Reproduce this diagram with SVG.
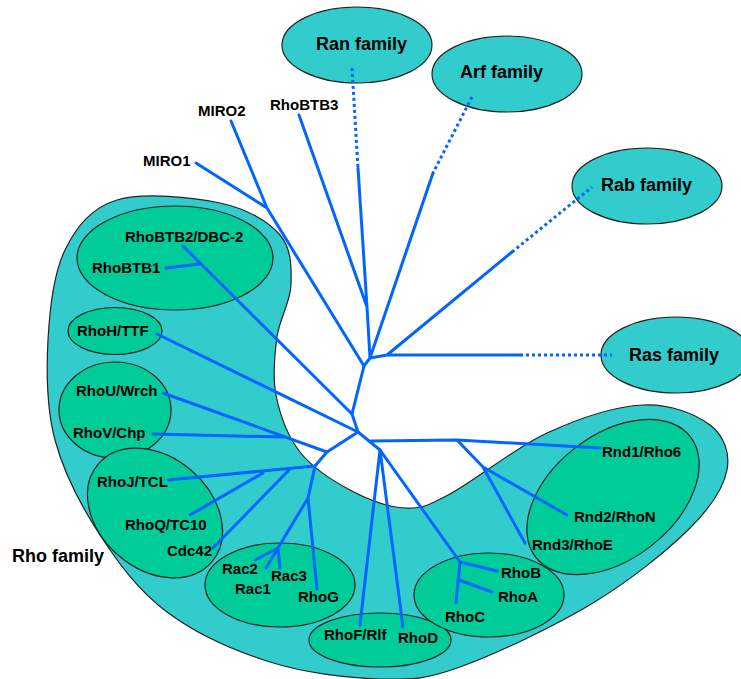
<svg xmlns="http://www.w3.org/2000/svg" width="741" height="679" viewBox="0 0 741 679">
<defs>
<style>
.fam{fill:#33CCCC;stroke:#222;stroke-width:1.2}
.sub{fill:#00CC99;stroke:#222;stroke-width:1.2}
.e{fill:none;stroke:#0066FF;stroke-width:3;stroke-linecap:round;stroke-linejoin:round}
.d{fill:none;stroke:#0066FF;stroke-width:3;stroke-dasharray:3 3}
text{font-family:"Liberation Sans",Arial,Helvetica,sans-serif;font-weight:bold;fill:#000}
.l{font-size:15px}
.f{font-size:18px}
</style>
</defs>
<rect width="741" height="679" fill="#fff"/>
<g id="rho-family">
<path class="fam" d="M117,200 C142.8,192.2 192.8,197.2 220,203 C247.2,208.8 268.2,221.3 280,235 C291.8,248.7 291.5,268 291,285 C290.5,302 279.5,318.7 277,337 C274.5,355.3 272.2,375.8 276,395 C279.8,414.2 287.7,436.2 300,452 C312.3,467.8 332.5,480.7 350,490 C367.5,499.3 388.3,507.3 405,508 C421.7,508.7 426.3,506.5 450,494 C473.7,481.5 514.8,447.8 547,433 C579.2,418.2 615.8,406.3 643,405 C670.2,403.7 696,414.2 710,425 C724,435.8 730.3,452.8 727,470 C723.7,487.2 712.3,505.8 690,528 C667.7,550.2 631.3,579.8 593,603 C554.7,626.2 495.5,654.3 460,667 C424.5,679.7 411.7,679.8 380,679 C348.3,678.2 305.5,673.2 270,662 C234.5,650.8 195.3,633.2 167,612 C138.7,590.8 118.7,563.7 100,535 C81.3,506.3 63.7,472.5 55,440 C46.3,407.5 46.3,371.7 48,340 C49.7,308.3 53.5,273.3 65,250 C76.5,226.7 91.2,207.8 117,200 Z"/>
<text class="f" x="12" y="562">Rho family</text>
</g>
<g id="rhobtb"><ellipse class="sub" cx="175" cy="258" rx="98" ry="52"/></g>
<g id="rhoh"><ellipse class="sub" cx="115" cy="331" rx="47" ry="23.5"/></g>
<g id="rhouv"><ellipse class="sub" cx="115" cy="410" rx="56" ry="48"/></g>
<g id="cdc42"><ellipse class="sub" cx="155" cy="513" rx="75" ry="56" transform="rotate(41 155 513)"/></g>
<g id="rac"><ellipse class="sub" cx="280" cy="585" rx="75" ry="42"/></g>
<g id="rhofd"><ellipse class="sub" cx="380" cy="640" rx="71" ry="27"/></g>
<g id="rhoabc"><ellipse class="sub" cx="489" cy="595" rx="75" ry="42"/></g>
<g id="rnd"><ellipse class="sub" cx="613" cy="497" rx="98" ry="62" transform="rotate(-38 613 497)"/></g>
<g id="ran"><ellipse class="fam" cx="357" cy="45" rx="75" ry="38"/><text class="f" x="316" y="50">Ran family</text></g>
<g id="arf"><ellipse class="fam" cx="507" cy="74" rx="75" ry="38"/><text class="f" x="460" y="78">Arf family</text></g>
<g id="rab"><ellipse class="fam" cx="647" cy="186" rx="75" ry="38"/><text class="f" x="601" y="191">Rab family</text></g>
<g id="ras"><ellipse class="fam" cx="676" cy="355" rx="75" ry="38"/><text class="f" x="629" y="361">Ras family</text></g>
<g id="connectors">
<path class="d" d="M352,68 L358,168"/>
<path class="d" d="M472,97 L433,173"/>
<path class="d" d="M512,252 L592,187"/>
<path class="d" d="M520,355 L612,355"/>
<path class="e" d="M196,163 L267,208 M231,121 L267,208 L364,366"/>
<path class="e" d="M299,115 L367,307 M358,168 L367,307 L370,358 M433,173 L370,358 M512,252 L387,355 M520,355 L387,355 L370,358 L364,366 L352,414 L358,432"/>
<path class="e" d="M183,246 L352,414 M166,268 L200,264"/>
<path class="e" d="M157,334 L358,432 L327,452 M163,393 L327,452 M153,434 L283,437 M327,452 L315,466 M168,480 L315,466 M190,515 L263,473 M213,548 L290,469"/>
<path class="e" d="M315,466 L308,498 L278,548 M255,560 L278,548 M266,568 L278,548 M280,568 L278,548 M308,498 L317,589"/>
<path class="e" d="M358,432 L380,450 M371,441 L457,440 L600,448 M457,440 L483,467 L567,515 M483,467 L525,543"/>
<path class="e" d="M380,450 L360,625 M380,450 L403,627 M380,450 L460,562 L456,603 M460,562 L497,571 M459,580 L492,592"/>
</g>
<g id="labels">
<text class="l" x="143" y="166">MIRO1</text>
<text class="l" x="198" y="116">MIRO2</text>
<text class="l" x="270" y="110">RhoBTB3</text>
<text class="l" x="125" y="242">RhoBTB2/DBC-2</text>
<text class="l" x="92" y="273">RhoBTB1</text>
<text class="l" x="77" y="336">RhoH/TTF</text>
<text class="l" x="76" y="396">RhoU/Wrch</text>
<text class="l" x="73" y="438">RhoV/Chp</text>
<text class="l" x="97" y="487">RhoJ/TCL</text>
<text class="l" x="125" y="530">RhoQ/TC10</text>
<text class="l" x="167" y="556">Cdc42</text>
<text class="l" x="222" y="574">Rac2</text>
<text class="l" x="235" y="594">Rac1</text>
<text class="l" x="271" y="581">Rac3</text>
<text class="l" x="298" y="602">RhoG</text>
<text class="l" x="324" y="640">RhoF/Rlf</text>
<text class="l" x="398" y="643">RhoD</text>
<text class="l" x="445" y="622">RhoC</text>
<text class="l" x="498" y="602">RhoA</text>
<text class="l" x="501" y="578">RhoB</text>
<text class="l" x="602" y="457">Rnd1/Rho6</text>
<text class="l" x="574" y="522">Rnd2/RhoN</text>
<text class="l" x="532" y="550">Rnd3/RhoE</text>
</g>
</svg>
